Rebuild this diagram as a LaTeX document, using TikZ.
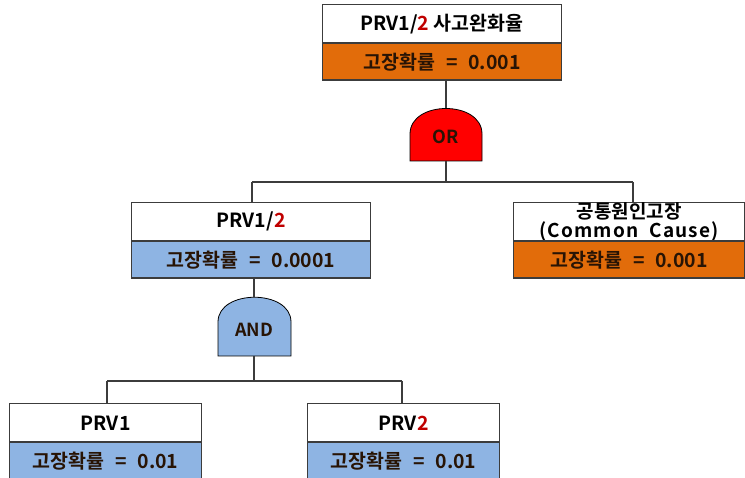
\documentclass[tikz,border=0pt]{standalone}
\usepackage{fontspec}
\setmainfont{Noto Sans CJK KR}[BoldFont={Noto Sans CJK KR Bold}]
\definecolor{boxorange}{RGB}{226,108,10}
\definecolor{boxblue}{RGB}{142,180,227}
\definecolor{gatered}{RGB}{255,0,0}
\definecolor{numred}{RGB}{192,0,0}
\definecolor{txtdark}{RGB}{40,20,5}
\definecolor{linegray}{RGB}{60,60,60}
\newcommand{\eqgap}{\hspace{0.55em}=\hspace{0.55em}}
\begin{document}
\begin{tikzpicture}[x=1pt,y=-1pt,
  lbl/.style={font=\bfseries\fontsize{19.5}{22}\selectfont},
  hdr/.style={lbl, draw=linegray, line width=1.3pt, fill=white, minimum width=#1, minimum height=38.5pt, inner sep=0pt, anchor=north west, align=center},
  val/.style={lbl, draw=linegray, line width=1.3pt, minimum width=#1, minimum height=37pt, inner sep=0pt, anchor=north west, text=txtdark},
  conn/.style={draw=linegray, line width=1.3pt},
  gate/.style={draw=black, line width=0.8pt},
  gatelbl/.style={font=\bfseries\fontsize{18}{20}\selectfont, text=txtdark},
]
\useasboundingbox (0,0) rectangle (745,478);
\clip (0,0) rectangle (745,478);

% top event
\node[hdr=239pt] (topH) at (322,4) {PRV1/\textcolor{numred}{2} 사고완화율};
\node[val=239pt, fill=boxorange] (topV) at (322,42.5) {고장확률\eqgap 0.001};

% OR gate
\path[gate, fill=gatered] (410,161) -- (410,134) .. controls (410,100) and (482,100) .. (482,134) -- (482,161) -- cycle;
\coordinate (orT) at (446,108);
\coordinate (orB) at (446,161);
\node[gatelbl] (orL) at (446,137) {OR};

% PRV1/2
\node[hdr=239pt] (midH) at (131,202) {PRV1/\textcolor{numred}{2}};
\node[val=239pt, fill=boxblue] (midV) at (131,240.5) {고장확률\eqgap 0.0001};

% common cause
\node[hdr=231pt, font=\bfseries\fontsize{19}{19.5}\selectfont] (ccH) at (513,202) {공통원인고장\\[-1pt]{\addfontfeature{LetterSpace=6}(Common\hspace{0.3em} Cause)}};
\node[val=231pt, fill=boxorange] (ccV) at (513,240.5) {고장확률\eqgap 0.001};

% AND gate
\path[gate, fill=boxblue] (218,356) -- (218,322) .. controls (218,289) and (291,289) .. (291,322) -- (291,356) -- cycle;
\coordinate (andT) at (254,297);
\coordinate (andB) at (254,356);
\node[gatelbl] (andL) at (254,330) {AND};

% basic events
\node[hdr=192pt] (p1H) at (9,403) {PRV1};
\node[val=192pt, fill=boxblue] (p1V) at (9,441.5) {고장확률\eqgap 0.01};
\node[hdr=192pt] (p2H) at (307,403) {PRV\textcolor{numred}{2}};
\node[val=192pt, fill=boxblue] (p2V) at (307,441.5) {고장확률\eqgap 0.01};

% connectors
\draw[conn] (orT) -- (orT |- topV.south);
\coordinate (j1) at (446,182);
\coordinate (j1L) at (252,182);
\coordinate (j1R) at (633,182);
\draw[conn] (orB) -- (j1);
\draw[conn] (j1L) -- (j1R);
\draw[conn] (j1L) -- (j1L |- midH.north);
\draw[conn] (j1R) -- (j1R |- ccH.north);
\draw[conn] (andT) -- (andT |- midV.south);
\coordinate (j2) at (254,381);
\coordinate (j2L) at (107,381);
\coordinate (j2R) at (402,381);
\draw[conn] (andB) -- (j2);
\draw[conn] (j2L) -- (j2R);
\draw[conn] (j2L) -- (j2L |- p1H.north);
\draw[conn] (j2R) -- (j2R |- p2H.north);
\end{tikzpicture}
\end{document}
